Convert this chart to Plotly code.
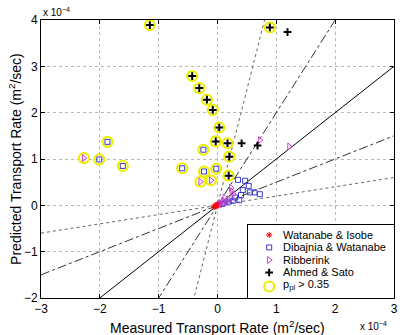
import plotly.graph_objects as go

# All rates in units of 1e-4 m^2/sec
wi_x = [-0.06, -0.04, -0.03, -0.02, -0.01, 0.00, 0.01, 0.02, 0.03, 0.04]
wi_y = [-0.03, -0.01, 0.00, -0.02, 0.01, 0.00, 0.02, 0.01, 0.03, 0.04]

dw_x = [-1.87, -2.01, -1.61, -0.60, -0.24, -0.23, -0.02, 0.35, 0.47, 0.53, 0.43,
        0.55, 0.63, 0.72, 0.40, 0.37, 0.26, 0.19, 0.30, 0.12, 0.08]
dw_y = [1.37, 0.99, 0.85, 0.80, 1.20, 0.73, 0.79, 0.55, 0.53, 0.42, 0.33,
        0.28, 0.28, 0.24, 0.22, 0.11, 0.10, 0.08, 0.17, 0.06, 0.03]

rb_x = [-2.27, -0.29, -0.11, 0.72, 1.22, 0.23, 0.24, 0.12, 0.10, 0.19, 0.27, 0.16, 0.05, 0.08]
rb_y = [1.02, 0.51, 0.54, 1.41, 1.27, 0.38, 0.31, 0.17, 0.10, 0.13, 0.24, 0.08, 0.05, 0.02]

as_x = [-1.15, 0.89, -0.43, -0.31, -0.18, -0.08, 0.03, -0.03, 0.17, 0.20, 0.19, 1.19, 0.41, 0.68]
as_y = [3.89, 3.84, 2.79, 2.53, 2.28, 2.06, 1.68, 1.38, 1.34, 1.05, 0.64, 3.74, 1.34, 1.29]

# points with p_pl > 0.35
pp_x = [-1.15, 0.89, -0.43, -0.31, -0.18, -0.08, 0.03, -0.03, 0.17, 0.20, 0.19,
        -1.87, -2.01, -1.61, -0.60, -0.24, -0.23, -0.02, -2.27, -0.29, -0.11]
pp_y = [3.89, 3.84, 2.79, 2.53, 2.28, 2.06, 1.68, 1.38, 1.34, 1.05, 0.64,
        1.37, 0.99, 0.85, 0.80, 1.20, 0.73, 0.79, 1.02, 0.51, 0.54]

ref_slopes = [1, 2, 0.5, 5, 0.2]
ref_styles = ["solid", "dashdot", "dashdot", "dot", "dot"]
ref_colors = ["#000000", "#333333", "#333333", "#666666", "#666666"]
x_span = [-3, 3]

x_ticks = [-3, -2, -1, 0, 1, 2, 3]
y_ticks = [-2, -1, 0, 1, 2, 3, 4]

legend_labels = ["Watanabe & Isobe", "Dibajnia & Watanabe", "Ribberink",
                 "Ahmed & Sato", "p<sub>pl</sub> > 0.35"]

FONT = "Liberation Sans, Arial, sans-serif"

series = [
    dict(x=wi_x, y=wi_y, symbol="asterisk-open", color="#ff0000", size=5, lw=1),
    dict(x=dw_x, y=dw_y, symbol="square-open", color="#3a3acc", size=5, lw=1),
    dict(x=rb_x, y=rb_y, symbol="triangle-right-open", color="#cc40cc", size=6, lw=1),
    dict(x=as_x, y=as_y, symbol="cross-thin-open", color="#000000", size=5.5, lw=2),
    dict(x=pp_x, y=pp_y, symbol="circle-open", color="#eeee00", size=10, lw=2.2),
]

fig = go.Figure()

for k, dash, c in zip(ref_slopes, ref_styles, ref_colors):
    fig.add_trace(go.Scatter(x=x_span, y=[k * v for v in x_span], mode="lines",
                             line=dict(color=c, width=1, dash=dash),
                             showlegend=False, hoverinfo="skip"))

# draw circles first, then markers on top
order = [4, 0, 1, 2, 3]
for i in order:
    s = series[i]
    fig.add_trace(go.Scatter(x=s["x"], y=s["y"], mode="markers", name=legend_labels[i],
                             marker=dict(symbol=s["symbol"], size=s["size"],
                                         color=s["color"],
                                         line=dict(color=s["color"], width=s["lw"])),
                             showlegend=False))

# legend drawn in an inset axes
row_y = [9.5, 22, 34.5, 47, 61]
for i, s in enumerate(series):
    fig.add_trace(go.Scatter(x=[21], y=[row_y[i]], mode="markers", xaxis="x2", yaxis="y2",
                             marker=dict(symbol=s["symbol"], size=s["size"],
                                         color=s["color"],
                                         line=dict(color=s["color"], width=s["lw"])),
                             showlegend=False, hoverinfo="skip"))
    fig.add_annotation(x=33, y=row_y[i] if i < 4 else row_y[i] - 1, xref="x2", yref="y2",
                       text=legend_labels[i], showarrow=False, xanchor="left",
                       yanchor="middle", font=dict(family=FONT, size=11, color="black"))

axis_common = dict(showgrid=True, gridcolor="#b8b8b8", griddash="dot", gridwidth=1,
                   zeroline=False, showline=True, linecolor="black", linewidth=1,
                   mirror="ticks", ticks="inside", ticklen=4, tickcolor="black",
                   automargin=False,
                   tickfont=dict(family=FONT, size=12, color="black"))

fig.update_layout(
    width=400, height=335,
    margin=dict(l=41, r=6, t=20, b=37, autoexpand=False),
    paper_bgcolor="white", plot_bgcolor="white",
    showlegend=False,
    font=dict(family=FONT, color="black"),
    xaxis=dict(range=[-3, 3], tickvals=x_ticks, domain=[0, 1], **axis_common),
    yaxis=dict(range=[-2, 4], tickvals=y_ticks, domain=[0, 1], **axis_common),
    xaxis2=dict(domain=[0.587, 1], range=[0, 146], anchor="y2", showgrid=False,
                zeroline=False, showticklabels=False, ticks="", showline=True,
                mirror=True, linecolor="black", linewidth=1, fixedrange=True,
                automargin=False),
    yaxis2=dict(domain=[0, 0.261], range=[72.5, 0], anchor="x2", showgrid=False,
                zeroline=False, showticklabels=False, ticks="", showline=True,
                mirror=True, linecolor="black", linewidth=1, fixedrange=True,
                automargin=False),
)

# axis titles
fig.add_annotation(x=0.5, y=0, xref="paper", yref="paper", xanchor="center",
                   yanchor="middle", yshift=-29, showarrow=False,
                   text="Measured Transport Rate (m<sup>2</sup>/sec)",
                   font=dict(family=FONT, size=14, color="black"))
fig.add_annotation(x=-0.074, y=0.5, xref="paper", yref="paper", xanchor="center",
                   yanchor="middle", textangle=-90, showarrow=False,
                   text="Predicted Transport Rate (m<sup>2</sup>/sec)",
                   font=dict(family=FONT, size=14, color="black"))

fig.add_annotation(x=0, y=1, xref="paper", yref="paper", xanchor="left", yanchor="bottom",
                   text="x 10<sup>−4</sup>", showarrow=False, yshift=0,
                   font=dict(family=FONT, size=10, color="black"))
fig.add_annotation(x=0.985, y=0, xref="paper", yref="paper", xanchor="right", yanchor="top",
                   text="x 10<sup>−4</sup>", showarrow=False, yshift=-20,
                   font=dict(family=FONT, size=10, color="black"))

fig.write_html("out.html")
